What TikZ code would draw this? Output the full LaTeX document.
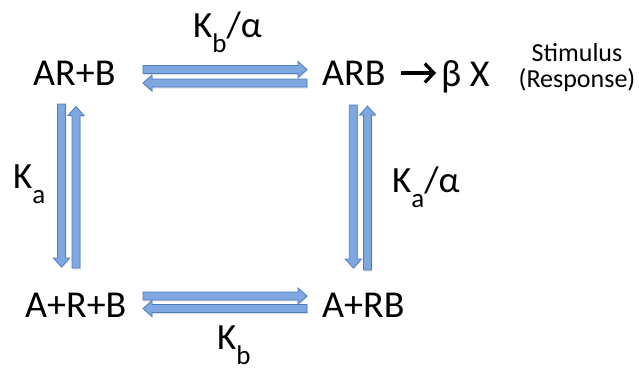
\documentclass[tikz,border=0pt]{standalone}
\usepackage{fontspec}
\setmainfont{Carlito}
\usetikzlibrary{calc,arrows.meta,shadows}

\definecolor{arrowfill}{RGB}{128,168,224}
\definecolor{arrowedge}{RGB}{74,126,190}

% lowered, smaller subscript in the text font
\newcommand\lowsub[1]{\raisebox{-15pt}{\fontsize{27}{27}\selectfont #1}}

% block-arrow geometry
\def\arrbody{4pt}
\def\arrhead{8pt}
\def\arrlen{9pt}

% hollow block arrow from #1 to #2
\newcommand\blockarr[2]{%
  \coordinate (ba-h) at ($(#2)!\arrlen!(#1)$);
  \draw[blockarrow]
    ($(#1)!\arrbody!90:(#2)$) -- ($(ba-h)!\arrbody!90:(#2)$) --
    ($(ba-h)!\arrhead!90:(#2)$) -- (#2) --
    ($(ba-h)!\arrhead!-90:(#2)$) -- ($(ba-h)!\arrbody!-90:(#2)$) --
    ($(#1)!\arrbody!-90:(#2)$) -- cycle;}

\begin{document}
\begin{tikzpicture}[x=1pt,y=-1pt,
  chem/.style={inner sep=0pt,anchor=base west,font=\fontsize{38}{38}\selectfont},
  rate/.style={inner sep=0pt,anchor=base west,font=\fontsize{37}{37}\selectfont},
  note/.style={inner sep=0pt,align=center,font=\fontsize{26}{26}\selectfont},
  blockarrow/.style={draw=arrowedge,fill=arrowfill,line width=0.8pt,line join=miter,
    drop shadow={opacity=0.22,shadow xshift=0.8pt,shadow yshift=-1.6pt}},
  react/.style={line width=3.2pt,-{Straight Barb[length=9pt,width=19pt]}}]

\fill[white] (0,0) rectangle (639,368);
\useasboundingbox (0,0) rectangle (639,368);

% species at the four corners
\node[chem] (arb0) at (33,85)  {AR+B};
\node[chem] (arb)  at (322,85) {ARB};
\node[chem] (arb1) at (25,317) {A+R+B};
\node[chem] (arb2) at (322,317){A+RB};
\node[chem] (bx)   at (441,86) {β X};
\node[note] (stim) at (577,68) {Stimulus\\(Response)};

% equilibrium constants
\node[rate] (kbt) at (193,37)  {K\lowsub{b}/α};
\node[rate] (kbb) at (217,349) {K\lowsub{b}};
\node[rate] (kal) at (13,188)  {K\lowsub{a}};
\node[rate] (kar) at (392,192) {K\lowsub{a}/α};

% end points of the paired block arrows
\coordinate (t1a) at (143,69.5);  \coordinate (t1b) at (307,69.5);
\coordinate (t2a) at (307,83);    \coordinate (t2b) at (143,83);
\coordinate (b1a) at (143,296);   \coordinate (b1b) at (307,296);
\coordinate (b2a) at (307,308.5); \coordinate (b2b) at (143,308.5);
\coordinate (l1a) at (61.5,104);  \coordinate (l1b) at (61.5,267);
\coordinate (l2a) at (76,268);    \coordinate (l2b) at (76,106.5);
\coordinate (r1a) at (353.3,105); \coordinate (r1b) at (353.3,268);
\coordinate (r2a) at (367.5,270); \coordinate (r2b) at (367.5,106);

\blockarr{t1a}{t1b}
\blockarr{t2a}{t2b}
\blockarr{b1a}{b1b}
\blockarr{b2a}{b2b}
\blockarr{l1a}{l1b}
\blockarr{l2a}{l2b}
\blockarr{r1a}{r1b}
\blockarr{r2a}{r2b}

% response arrow
\coordinate (rx1) at (401,73);
\coordinate (rx2) at (436,73);
\draw[react] (rx1) -- (rx2);
\end{tikzpicture}
\end{document}
